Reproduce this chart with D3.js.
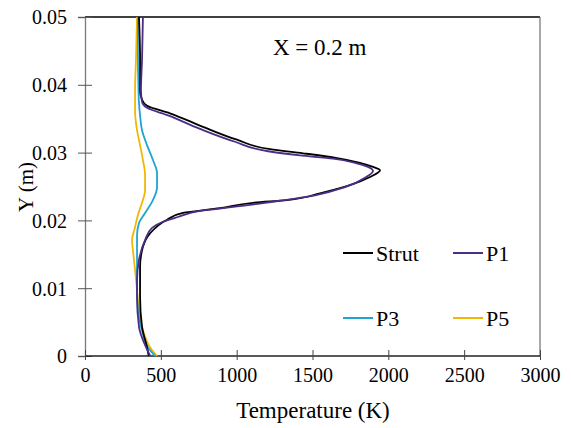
<!DOCTYPE html>
<html><head><meta charset="utf-8">
<script src="https://cdn.jsdelivr.net/npm/d3@7"></script>
<style>body{margin:0;background:#fff}svg{display:block}</style>
</head><body><div id="c"></div>
<script>
const xTicks = [0, 500, 1000, 1500, 2000, 2500, 3000];
const yTicks = [0, 0.01, 0.02, 0.03, 0.04, 0.05];
const yTickLabels = ["0", "0.01", "0.02", "0.03", "0.04", "0.05"];
const seriesNames = ["Strut", "P1", "P3", "P5"];

const strutY = [0, 0.0013, 0.0043, 0.0087, 0.0131, 0.0161, 0.0181, 0.0201, 0.0211, 0.0218, 0.0226, 0.0230, 0.0240, 0.0252, 0.0264, 0.0274, 0.0279, 0.0285, 0.0292, 0.0299, 0.0305, 0.0319, 0.0338, 0.0358, 0.0369, 0.0378, 0.0392, 0.0437, 0.05];
const strutT = [420, 409, 376, 363, 363, 382, 429, 541, 646, 890, 1108, 1332, 1549, 1747, 1879, 1945, 1899, 1813, 1662, 1437, 1220, 1002, 778, 560, 409, 376, 363, 363, 356];

const p1Y = [0, 0.0013, 0.0043, 0.0087, 0.0112, 0.0142, 0.0171, 0.0189, 0.0198, 0.0205, 0.0214, 0.0221, 0.0229, 0.0237, 0.0249, 0.0263, 0.0273, 0.0279, 0.0285, 0.0291, 0.0296, 0.0302, 0.0316, 0.0335, 0.0355, 0.0366, 0.0375, 0.0392, 0.0437, 0.05];
const p1T = [430, 402, 356, 343, 343, 356, 396, 442, 514, 613, 758, 1022, 1286, 1516, 1714, 1846, 1899, 1866, 1780, 1635, 1418, 1207, 989, 758, 547, 409, 376, 369, 376, 382];

const p3Y = [0, 0.0013, 0.0038, 0.0068, 0.0097, 0.0127, 0.0156, 0.0178, 0.0196, 0.0211, 0.0230, 0.0249, 0.0270, 0.0289, 0.0311, 0.0333, 0.0355, 0.0373, 0.0400, 0.0450, 0.05];
const p3T = [462, 415, 376, 349, 343, 343, 343, 343, 356, 396, 448, 475, 475, 448, 409, 376, 363, 356, 352, 349, 349];

const p5Y = [0, 0.0013, 0.0038, 0.0068, 0.0097, 0.0127, 0.0156, 0.0171, 0.0190, 0.0208, 0.0226, 0.0245, 0.0267, 0.0289, 0.0311, 0.0333, 0.0363, 0.0392, 0.0437, 0.05];
const p5T = [475, 429, 382, 356, 343, 330, 316, 310, 330, 349, 376, 396, 396, 382, 363, 343, 330, 330, 336, 343];

const colors = ["#000000", "#4a2e86", "#1ea5d2", "#f2b705"];
const FONT = "'Liberation Serif', 'Times New Roman', Tinos, 'DejaVu Serif', serif";

const W = 571, H = 428;
const svg = d3.select("#c").append("svg").attr("width", W).attr("height", H)
  .style("font-family", FONT);
const x = d3.scaleLinear().domain([0, 3000]).range([85, 540]);
const y = d3.scaleLinear().domain([0, 0.05]).range([356, 17]);

// frame
svg.append("line").attr("x1", 85).attr("x2", 540).attr("y1", y(0.05)).attr("y2", y(0.05)).attr("stroke", "#000").attr("stroke-width", 1.3);
svg.append("line").attr("x1", 540).attr("x2", 540).attr("y1", y(0.05)).attr("y2", y(0)).attr("stroke", "#7a7a7a").attr("stroke-width", 1.3);

// y axis
const yAxis = d3.axisLeft(y).tickValues(yTicks).tickFormat((d, i) => yTickLabels[i]).tickSize(7).tickPadding(11);
const gy = svg.append("g").attr("transform", "translate(85,0)").call(yAxis);
gy.attr("font-family", null);
gy.select(".domain").attr("stroke", "#7a7a7a").attr("stroke-width", 1.3);
gy.selectAll(".tick line").attr("stroke", "#555").attr("x2", 7).attr("x1", -7);
gy.selectAll(".tick text").attr("font-size", 20).style("font-family", FONT).attr("dy", "0.34em");

// x axis
const xAxis = d3.axisBottom(x).tickValues(xTicks).tickFormat(d3.format("d")).tickSize(4).tickPadding(7);
const gx = svg.append("g").attr("transform", "translate(0,356)").call(xAxis);
gx.attr("font-family", null);
gx.select(".domain").attr("stroke", "#222").attr("stroke-width", 1.3).attr("d", "M85,0H540");
gx.selectAll(".tick line").attr("stroke", "#444").attr("y1", -6).attr("y2", 4);
gx.selectAll(".tick text").attr("font-size", 20).style("font-family", FONT).attr("dy", "0.75em");

// titles
svg.append("text").attr("x", 313).attr("y", 418).attr("text-anchor", "middle").attr("font-size", 23).style("font-family", FONT).text("Temperature (K)");
svg.append("text").attr("transform", "translate(33,187) rotate(-90)").attr("text-anchor", "middle").attr("font-size", 21).style("font-family", FONT).text("Y (m)");
svg.append("text").attr("x", 273).attr("y", 55).attr("font-size", 23).style("font-family", FONT).text("X = 0.2 m");

// curves
const line = d3.line().x(d => x(d[0])).y(d => y(d[1])).curve(d3.curveMonotoneY);
const series = [
  d3.zip(p5T, p5Y), d3.zip(p3T, p3Y), d3.zip(strutT, strutY), d3.zip(p1T, p1Y)
];
const order = [3, 2, 0, 1];
series.forEach((s, i) => {
  svg.append("path").attr("d", line(s)).attr("fill", "none")
    .attr("stroke", colors[order[i]]).attr("stroke-width", 1.8).attr("stroke-linejoin", "round");
});

// legend
const legPos = [[343, 253], [453, 253], [343, 318], [453, 318]];
seriesNames.forEach((n, i) => {
  const [lx, ly] = legPos[i];
  svg.append("line").attr("x1", lx).attr("x2", lx + 30).attr("y1", ly).attr("y2", ly).attr("stroke", colors[i]).attr("stroke-width", 2);
  svg.append("text").attr("x", lx + 33).attr("y", ly + 8).attr("font-size", 22).style("font-family", FONT).text(n);
});
</script></body></html>
